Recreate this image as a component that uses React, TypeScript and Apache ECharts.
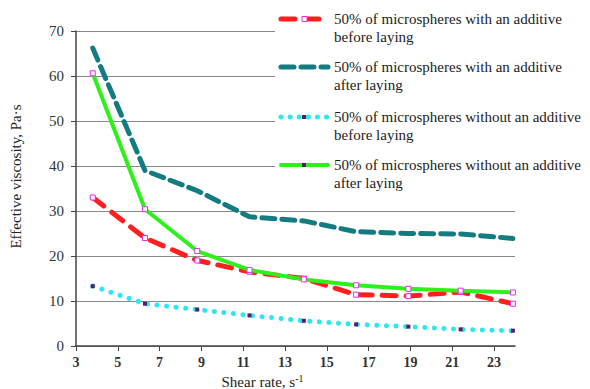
import React, { useEffect, useRef } from "react";
import * as echarts from "echarts";

const shearRate = [3.8, 6.3, 8.8, 11.3, 13.9, 16.4, 18.9, 21.4, 23.9];
const withAdditiveBefore = [33.0, 24.0, 19.0, 16.5, 15.0, 11.4, 11.1, 12.0, 9.4];
const withAdditiveAfter = [66.2, 39.0, 34.5, 28.7, 27.8, 25.4, 25.0, 24.9, 23.9];
const withoutAdditiveBefore = [13.3, 9.4, 8.1, 6.8, 5.6, 4.8, 4.3, 3.7, 3.4];
const withoutAdditiveAfter = [60.6, 30.4, 21.1, 16.9, 14.8, 13.5, 12.7, 12.3, 11.9];

const seriesNames = [
  "50% of microspheres with an additive\nbefore laying",
  "50% of microspheres with an additive\nafter laying",
  "50% of microspheres without an additive\nbefore laying",
  "50% of microspheres without an additive\nafter laying",
];

const yTicks = { min: 0, max: 70, interval: 10 };
const xTicks = { min: 3, max: 24, interval: 2 };

const FONT = "Liberation Serif";
const RED = "#ff1f1f";
const TEAL = "#127c80";
const CYAN = "#2ae8f2";
const GREEN = "#2ef01a";
const MAGENTA = "#e030e8";
const PURPLE = "#5b1a6e";

function pairs(ys: number[]) {
  return shearRate.map((x, i) => [x, ys[i]]);
}

export default function App() {
  const ref = useRef<HTMLDivElement>(null);
  useEffect(() => {
    if (!ref.current) return;
    const chart = echarts.init(ref.current, undefined, { renderer: "svg" });

    const legendTop = [19, 67, 117, 165];
    const legendGraphics: any[] = [
      {
        type: "rect",
        left: 275,
        top: 0,
        shape: { width: 315, height: 196 },
        style: { fill: "#fff" },
        z: 5,
      },
    ];
    const iconStyles = [
      { stroke: RED, lineWidth: 5, lineDash: [14, 10], marker: "hollow" },
      { stroke: TEAL, lineWidth: 5, lineDash: [13, 7], marker: "none" },
      { stroke: CYAN, lineWidth: 5, lineDash: [0.1, 9], marker: "dot" },
      { stroke: GREEN, lineWidth: 4, lineDash: null, marker: "small" },
    ];
    legendTop.forEach((y, i) => {
      const s = iconStyles[i];
      legendGraphics.push({
        type: "line",
        shape: { x1: 281, y1: y, x2: 328, y2: y },
        style: {
          stroke: s.stroke,
          lineWidth: s.lineWidth,
          lineDash: s.lineDash,
          lineCap: "round",
        },
        z: 6,
      });
      if (s.marker === "hollow") {
        legendGraphics.push({
          type: "rect",
          shape: { x: 302, y: y - 2.5, width: 5, height: 5 },
          style: { fill: "#fff", stroke: MAGENTA, lineWidth: 1 },
          z: 7,
        });
      } else if (s.marker === "dot" || s.marker === "small") {
        legendGraphics.push({
          type: "rect",
          shape: { x: 302, y: y - 2, width: 4, height: 4 },
          style: { fill: PURPLE },
          z: 7,
        });
      }
      legendGraphics.push({
        type: "text",
        x: 334,
        y: y - 9,
        style: {
          text: seriesNames[i],
          fontFamily: FONT,
          fontSize: 15,
          fill: "#222",
          lineHeight: 18,
          verticalAlign: "top",
        },
        z: 7,
      });
    });

    const option: any = {
      animation: false,
      backgroundColor: "#fff",
      textStyle: { fontFamily: FONT },
      grid: { left: 76, right: 75, top: 31, bottom: 43, outerBoundsMode: "none", containLabel: false },
      xAxis: {
        type: "value",
        min: xTicks.min,
        max: xTicks.max,
        interval: xTicks.interval,
        name: "{a|Shear rate, s}{b|-1}",
        nameLocation: "middle",
        nameGap: 23,
        nameTextStyle: {
          padding: [0, 66, 0, 0],
          rich: {
            a: { fontFamily: FONT, fontSize: 15, color: "#222", lineHeight: 16 },
            b: { fontFamily: FONT, fontSize: 10, color: "#222", verticalAlign: "top", lineHeight: 16 },
          },
        },
        axisLine: { show: true, lineStyle: { color: "#444", width: 1.5 } },
        axisTick: { show: true, inside: false, length: 5, lineStyle: { color: "#444" } },
        axisLabel: {
          fontFamily: FONT,
          fontSize: 14,
          fontWeight: "bold",
          color: "#333",
          margin: 9,
          showMaxLabel: false,
        },
        splitLine: { show: false },
      },
      yAxis: {
        type: "value",
        min: yTicks.min,
        max: yTicks.max,
        interval: yTicks.interval,
        name: "Effective viscosity, Pa·s",
        nameLocation: "middle",
        nameGap: 53,
        nameTextStyle: { fontFamily: FONT, fontSize: 15, color: "#222", padding: [0, 0, 0, 24] },
        axisLine: { show: true, lineStyle: { color: "#444", width: 1.5 } },
        axisTick: { show: true, inside: false, length: 5, lineStyle: { color: "#444" } },
        axisLabel: { fontFamily: FONT, fontSize: 15, color: "#333", margin: 12 },
        splitLine: { show: true, lineStyle: { color: "#888", width: 1.2 } },
      },
      graphic: legendGraphics,
      series: [
        {
          name: seriesNames[0],
          type: "line",
          data: pairs(withAdditiveBefore),
          symbol: "rect",
          symbolSize: 5,
          itemStyle: { color: "#fff", borderColor: MAGENTA, borderWidth: 1 },
          lineStyle: { color: RED, width: 5, type: [14, 10], cap: "round" },
          z: 3,
        },
        {
          name: seriesNames[1],
          type: "line",
          data: pairs(withAdditiveAfter),
          symbol: "none",
          lineStyle: { color: TEAL, width: 5, type: [13, 7], cap: "round" },
          z: 2,
        },
        {
          name: seriesNames[2],
          type: "line",
          data: pairs(withoutAdditiveBefore),
          symbol: "rect",
          symbolSize: 4,
          itemStyle: { color: PURPLE, borderWidth: 0 },
          lineStyle: { color: CYAN, width: 5, type: [0.1, 9.5], cap: "round" },
          z: 2,
        },
        {
          name: seriesNames[3],
          type: "line",
          data: pairs(withoutAdditiveAfter),
          symbol: "rect",
          symbolSize: 5,
          itemStyle: { color: "#fff", borderColor: MAGENTA, borderWidth: 1 },
          lineStyle: { color: GREEN, width: 4 },
          z: 4,
        },
      ],
    };
    chart.setOption(option);
    return () => chart.dispose();
  }, []);

  return <div ref={ref} style={{ width: 590, height: 389, position: "fixed", left: 0, top: 0 }} />;
}
